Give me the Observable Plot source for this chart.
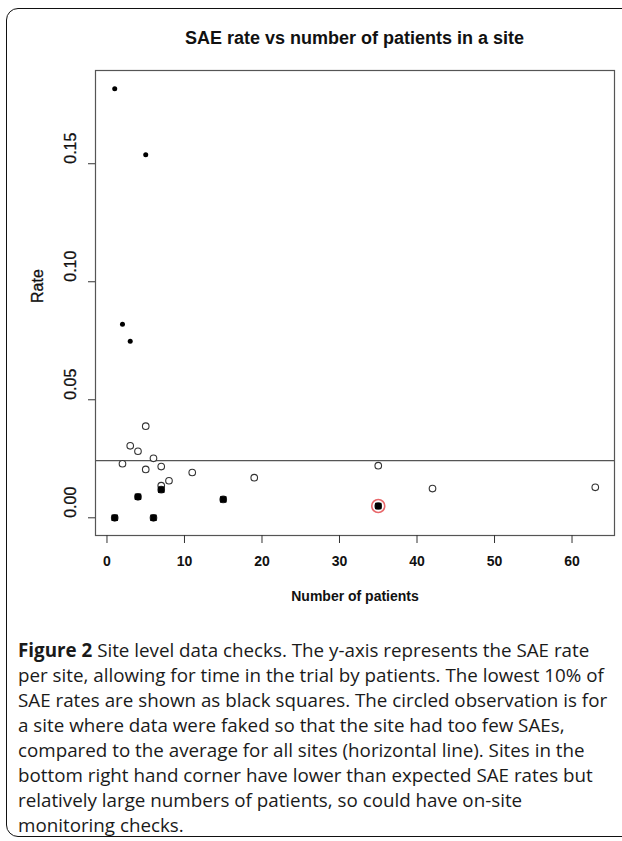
<!DOCTYPE html>
<html>
<head>
<meta charset="utf-8">
<script src="https://cdn.jsdelivr.net/npm/d3@7"></script>
<script src="https://cdn.jsdelivr.net/npm/@observablehq/plot@0.6"></script>
<style>
  html, body { margin: 0; padding: 0; background: #fff; }
  #page { position: relative; width: 622px; height: 841px; overflow: hidden; }
  #frame { position: absolute; left: 6px; top: 8px; width: 700px; height: 829px;
           border: 1.5px solid #111; border-radius: 12px; box-sizing: border-box; }
  #title { position: absolute; left: 95px; width: 519px; top: 28px; text-align: center;
           font: bold 18px "Liberation Sans", Arial, sans-serif; color: #111; }
  #chart { position: absolute; left: 0; top: 0; }
  #caption { position: absolute; left: 18px; top: 638px; font-family: "Open Sans", sans-serif;
             font-size: 18.8px; line-height: 25px; color: #1a1a1a; white-space: nowrap; }
  #caption b { font-weight: 700; }
</style>
</head>
<body>
<div id="page">
  <div id="frame"></div>
  <div id="chart"></div>
  <div id="title"></div>
  <div id="caption"></div>
</div>
<script>
// ---- data ----
const titleText = "SAE rate vs number of patients in a site";
const xLabel = "Number of patients";
const yLabel = "Rate";
const xTicks = [0, 10, 20, 30, 40, 50, 60];
const yTicks = [0.00, 0.05, 0.10, 0.15];

// sites with high SAE rates (small filled dots)
const highN    = [1, 5, 2, 3];
const highRate = [0.1818, 0.1538, 0.0820, 0.0748];

// ordinary sites (open circles)
const openN    = [5, 3, 4, 6, 2, 5, 7, 8, 11, 19, 7, 35, 42, 63];
const openRate = [0.0388, 0.0305, 0.0282, 0.0252, 0.0229, 0.0205, 0.0217, 0.0157, 0.0192, 0.0170, 0.0136, 0.0221, 0.0124, 0.0129];

// lowest 10% of SAE rates (black squares)
const lowN    = [4, 7, 15, 1, 6, 35];
const lowRate = [0.0089, 0.0119, 0.0078, 0.0000, 0.0000, 0.0050];

// circled (faked) site
const fakedN    = [35];
const fakedRate = [0.0050];

// average for all sites
const meanRate = 0.0242;

const captionLines = [
  "<b>Figure 2</b> Site level data checks. The y-axis represents the SAE rate",
  "per site, allowing for time in the trial by patients. The lowest 10% of",
  "SAE rates are shown as black squares. The circled observation is for",
  "a site where data were faked so that the site had too few SAEs,",
  "compared to the average for all sites (horizontal line). Sites in the",
  "bottom right hand corner have lower than expected SAE rates but",
  "relatively large numbers of patients, so could have on-site",
  "monitoring checks."
];

// ---- build tables ----
const high  = highN.map((n, i) => ({n, rate: highRate[i]}));
const open  = openN.map((n, i) => ({n, rate: openRate[i]}));
const low   = lowN.map((n, i) => ({n, rate: lowRate[i]}));
const faked = fakedN.map((n, i) => ({n, rate: fakedRate[i]}));

const plot = Plot.plot({
  width: 622,
  height: 620,
  marginLeft: 95,
  marginRight: 8,
  marginTop: 70,
  marginBottom: 85,
  style: { fontFamily: '"Liberation Sans", Arial, sans-serif', fontSize: "15px", color: "#111", background: "transparent" },
  x: { domain: [-1.48, 65.48], label: null },
  y: { domain: [-0.0075, 0.1895], label: null },
  marks: [
    Plot.frame({ stroke: "#555", strokeWidth: 1.2 }),
    Plot.axisX({ ticks: xTicks, tickSize: 8, tickFormat: () => "", label: null, stroke: "#333" }),
    Plot.axisY({ ticks: yTicks, tickSize: 7, tickFormat: () => "", label: null, stroke: "#333" }),
    Plot.text(xTicks, { x: d => d, text: d => String(d), frameAnchor: "bottom", dy: 30, fontSize: 14, fontWeight: "bold", fill: "#111" }),
    Plot.text(yTicks, { y: d => d, text: d => d.toFixed(2), frameAnchor: "left", dx: -25, rotate: -90, fontSize: 16, fill: "#111", stroke: "#111", strokeWidth: 0.3 }),
    Plot.text([xLabel], { frameAnchor: "bottom", dy: 65, fontSize: 14, fontWeight: "bold", fill: "#111" }),
    Plot.text([yLabel], { frameAnchor: "left", dx: -58, rotate: -90, fontSize: 16, fill: "#111", stroke: "#111", strokeWidth: 0.3 }),
    Plot.ruleY([meanRate], { stroke: "#555", strokeWidth: 1.2 }),
    Plot.dot(open, { x: "n", y: "rate", r: 3.3, stroke: "#333", strokeWidth: 1.1, fill: "white" }),
    Plot.dot(low, { x: "n", y: "rate", r: 3.3, stroke: "#333", strokeWidth: 1.1, fill: "none" }),
    Plot.dot(low, { x: "n", y: "rate", symbol: "square", r: 3.6, fill: "#000", stroke: "none" }),
    Plot.dot(high, { x: "n", y: "rate", r: 2.5, fill: "#000", stroke: "none" }),
    Plot.dot(faked, { x: "n", y: "rate", r: 6.5, stroke: "#e8676a", strokeWidth: 1.6, fill: "none" })
  ]
});

document.getElementById("chart").appendChild(plot);
document.getElementById("title").textContent = titleText;
document.getElementById("caption").innerHTML = captionLines.join("<br>");
</script>
</body>
</html>
